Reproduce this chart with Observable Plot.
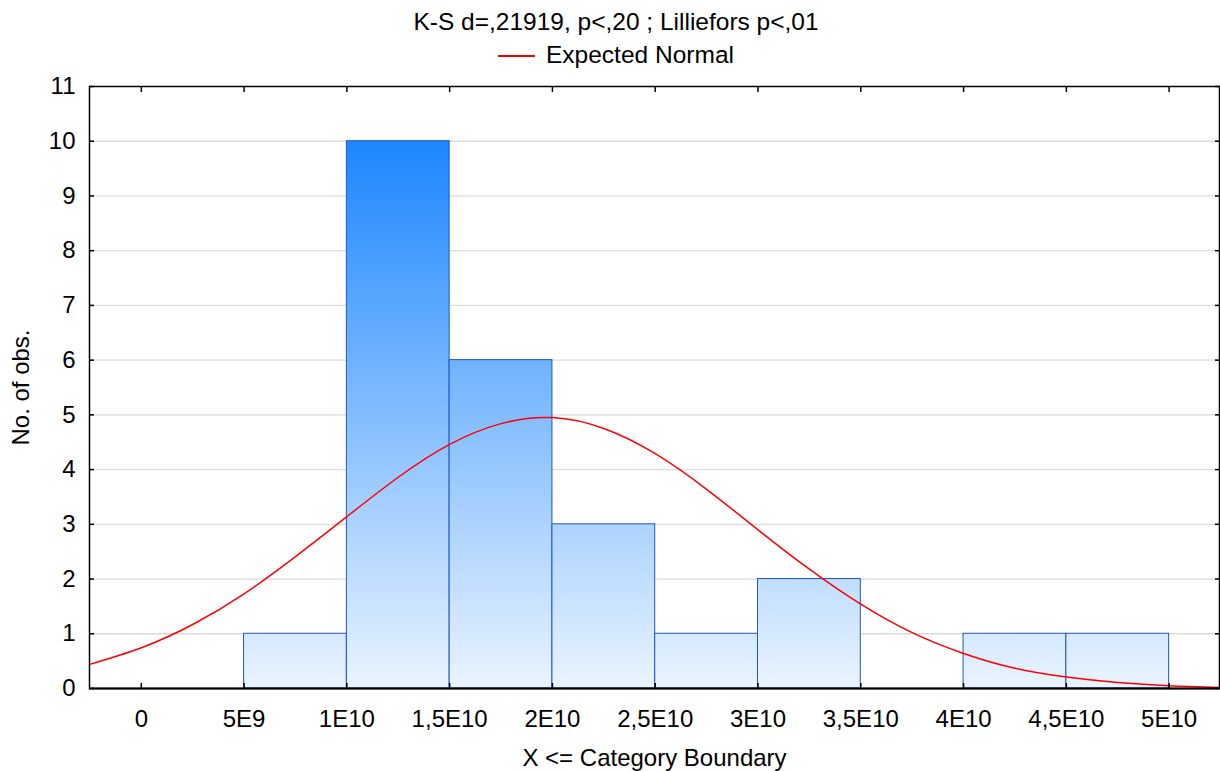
<!DOCTYPE html>
<html>
<head>
<meta charset="utf-8">
<script src="https://cdn.jsdelivr.net/npm/d3@7"></script>
<script src="https://cdn.jsdelivr.net/npm/@observablehq/plot@0.6"></script>
<style>
  html, body { margin: 0; padding: 0; background: #fff; }
  body { width: 1220px; height: 771px; overflow: hidden; font-family: "Liberation Sans", Arial, sans-serif; color: #000; }
  #head { height: 70px; text-align: center; padding-left: 12px; }
  #title { font-size: 24.5px; line-height: 26px; padding-top: 9px; }
  #legend { font-size: 24.5px; line-height: 26px; margin-top: 7px; }
  #legend .sw { display: inline-block; width: 37px; height: 2px; background: #ff0000; vertical-align: middle; margin-right: 11px; position: relative; top: -1px; }
</style>
</head>
<body>
<div id="head">
  <div id="title">K-S d=,21919, p&lt;,20 ; Lilliefors p&lt;,01</div>
  <div id="legend"><span class="sw"></span>Expected Normal</div>
</div>
<div id="chart"></div>
<script>
// Histogram bins (category boundaries) and counts
const binStart = [5e9, 1e10, 1.5e10, 2e10, 2.5e10, 3e10, 3.5e10, 4e10, 4.5e10];
const binEnd   = [1e10, 1.5e10, 2e10, 2.5e10, 3e10, 3.5e10, 4e10, 4.5e10, 5e10];
const counts   = [1, 10, 6, 3, 1, 2, 0, 1, 1];

// Expected Normal curve
const curveX = [-2.52e9, 0, 2.5e9, 5e9, 7.5e9, 1e10, 1.25e10, 1.5e10, 1.75e10, 2e10, 2.25e10, 2.5e10, 2.75e10, 3e10, 3.25e10, 3.5e10, 3.75e10, 4e10, 4.25e10, 4.5e10, 4.75e10, 5e10, 5.245e10];
const curveY = [0.44, 0.745, 1.17, 1.73, 2.41, 3.14, 3.86, 4.46, 4.84, 4.95, 4.75, 4.29, 3.64, 2.90, 2.18, 1.54, 1.02, 0.64, 0.37, 0.21, 0.11, 0.05, 0.02];

// Axis ticks and labels
const xTicks = [0, 5e9, 1e10, 1.5e10, 2e10, 2.5e10, 3e10, 3.5e10, 4e10, 4.5e10, 5e10];
const xTickLabels = ["0", "5E9", "1E10", "1,5E10", "2E10", "2,5E10", "3E10", "3,5E10", "4E10", "4,5E10", "5E10"];
const yTicks = [0, 1, 2, 3, 4, 5, 6, 7, 8, 9, 10, 11];
const xLabel = "X <= Category Boundary";
const yLabel = "No. of obs.";

const bins = binStart.map((s, i) => ({x1: s, x2: binEnd[i], n: counts[i]})).filter(d => d.n > 0);
const curve = curveX.map((x, i) => ({x, y: curveY[i]}));
const xLab = new Map(xTicks.map((t, i) => [t, xTickLabels[i]]));

const chart = Plot.plot({
  width: 1220,
  height: 701,
  marginTop: 16,
  marginBottom: 83,
  marginLeft: 89,
  marginRight: 1,
  style: {fontFamily: "'Liberation Sans', Arial, sans-serif", fontSize: "24px", color: "#000", background: "#fff"},
  x: {domain: [-2.52e9, 5.245e10]},
  y: {domain: [0, 11]},
  marks: [
    Plot.gridY(yTicks.filter(d => d > 0 && d < 11), {stroke: "#dcdcdc", strokeOpacity: 1, strokeWidth: 1.3}),
    Plot.rectY(bins, {x1: "x1", x2: "x2", y: "n", fill: "url(#binGrad)", stroke: "#1f55cc", strokeWidth: 1}),
    Plot.line(curve, {x: "x", y: "y", stroke: "#ff0000", strokeWidth: 1.5, curve: "natural"}),
    Plot.frame({stroke: "#000", strokeWidth: 1.5}),
    Plot.ruleY([0], {stroke: "#000", strokeWidth: 2}),
    Plot.axisX(xTicks, {anchor: "bottom", tickSize: -5, tickPadding: 26, tickFormat: d => xLab.get(d), label: null, strokeWidth: 1.5, fontSize: 24}),
    Plot.axisX(xTicks, {anchor: "top", tickSize: -5, tickFormat: () => "", label: null, strokeWidth: 1.5}),
    Plot.axisY(yTicks, {anchor: "left", tickSize: -5, tickPadding: 19, tickFormat: d => String(d), label: null, strokeWidth: 1.5, fontSize: 24}),
    Plot.axisY(yTicks, {anchor: "right", tickSize: -5, tickFormat: () => "", label: null, strokeWidth: 1.5}),
    Plot.text([xLabel], {text: d => d, frameAnchor: "bottom", dy: 70, lineAnchor: "middle", fontSize: 24}),
    Plot.text([yLabel], {text: d => d, frameAnchor: "left", dx: -68, rotate: -90, lineAnchor: "middle", textAnchor: "middle", fontSize: 24})
  ]
});

// gradient shared by all bars, fixed in plot space from y=10 (dark) to y=0 (light)
const ys = chart.scale("y");
const ns = "http://www.w3.org/2000/svg";
const defs = document.createElementNS(ns, "defs");
const grad = document.createElementNS(ns, "linearGradient");
grad.setAttribute("id", "binGrad");
grad.setAttribute("gradientUnits", "userSpaceOnUse");
grad.setAttribute("x1", "0"); grad.setAttribute("x2", "0");
grad.setAttribute("y1", String(ys.apply(10)));
grad.setAttribute("y2", String(ys.apply(0)));
[["0", "#1c86fe"], ["1", "#eaf4ff"]].forEach(([o, c]) => {
  const s = document.createElementNS(ns, "stop");
  s.setAttribute("offset", o); s.setAttribute("stop-color", c);
  grad.appendChild(s);
});
defs.appendChild(grad);
chart.insertBefore(defs, chart.firstChild);

document.getElementById("chart").appendChild(chart);
</script>
</body>
</html>
